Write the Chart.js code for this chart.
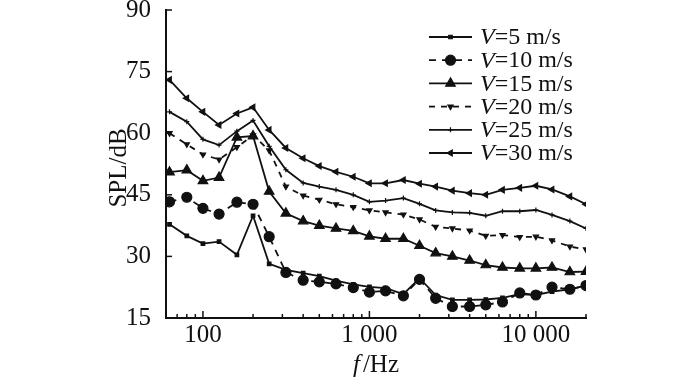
<!DOCTYPE html>
<html><head><meta charset="utf-8">
<script src="https://cdn.jsdelivr.net/npm/chart.js@4/dist/chart.umd.min.js"></script>
<style>html,body{margin:0;padding:0;background:#fff}</style>
</head><body>
<canvas id="c" width="700" height="381" style="width:700px;height:381px;display:block"></canvas>
<script>
const freqs = [63,80,100,125,160,200,250,315,400,500,630,800,1000,1250,1600,2000,2500,3150,4000,5000,6300,8000,10000,12500,16000,20000];
const v5  = [37.8,35.0,33.1,33.6,30.4,39.9,28.2,26.7,25.9,25.2,24.1,23.2,22.6,22.3,20.8,24.7,20.6,19.4,19.4,19.5,19.9,20.8,20.6,21.4,22.0,22.9];
const v10 = [43.3,44.4,41.7,40.3,43.2,42.7,34.8,26.1,24.2,23.8,23.3,22.4,21.3,21.6,20.4,24.4,19.8,17.8,17.8,18.2,18.9,21.1,20.6,22.5,22.0,22.9];
const v15 = [50.5,51.0,48.4,49.2,59.0,59.3,45.8,40.5,38.6,37.5,36.8,36.2,34.9,34.3,34.3,32.6,30.8,30.0,29.0,27.9,27.3,27.1,27.1,27.3,26.2,26.3];
const v20 = [60.0,57.3,54.8,53.6,56.6,59.5,55.8,47.0,44.8,43.8,42.7,42.0,41.2,40.7,40.2,39.0,37.2,36.8,36.3,35.0,35.2,34.7,34.8,33.9,32.4,31.7];
const v25 = [65.2,62.8,58.5,57.1,60.5,63.1,56.8,51.1,47.9,47.0,46.2,45.0,43.3,43.6,44.2,42.8,41.2,40.7,40.6,39.9,41.0,41.0,41.3,40.1,38.6,36.8];
const v30 = [73.0,68.5,65.2,62.0,64.8,66.3,60.8,56.4,53.9,52.0,50.6,49.4,47.8,47.8,48.6,47.7,47.0,46.0,45.4,45.0,46.2,46.7,47.2,46.3,44.6,42.7];
const speeds = ['5','10','15','20','25','30'];
const majorTicks = [100,1000,10000];
const majorLabels = ['100','1 000','10 000'];
const minorTicks = [70,80,90,200,300,400,500,600,700,800,900,2000,3000,4000,5000,6000,7000,8000,9000,20000];
const yTicks = [15,30,45,60,75,90];

const INK = '#111';
const SERIF = '"Liberation Serif","Times New Roman",Times,serif';
const series = [v5,v10,v15,v20,v25,v30];
const styles = [
  {pointStyle:'rect', pointRadius:2.5, rotation:0, dash:[]},
  {pointStyle:'circle', pointRadius:5, rotation:0, dash:[7,6]},
  {pointStyle:'triangle', pointRadius:5.5, rotation:0, dash:[]},
  {pointStyle:'triangle', pointRadius:3, rotation:180, dash:[6,6]},
  {pointStyle:'cross', pointRadius:2.5, rotation:0, dash:[]},
  {pointStyle:'triangle', pointRadius:3.5, rotation:-90, dash:[]}
];

const datasets = series.map((vals,i)=>({
  label: 'V=' + speeds[i] + ' m/s',
  data: freqs.map((f,j)=>({x:f, y:vals[j]})),
  borderColor: INK, backgroundColor: INK,
  borderWidth: 1.8, borderDash: styles[i].dash,
  pointStyle: styles[i].pointStyle, pointRadius: styles[i].pointRadius,
  pointRotation: styles[i].rotation, pointBorderWidth: 1.2,
  pointBorderColor: INK, pointBackgroundColor: INK,
  tension: 0, fill: false
}));

const decor = {
  id: 'decor',
  afterDraw(chart){
    const ctx = chart.ctx, xs = chart.scales.x, ys = chart.scales.y, a = chart.chartArea;
    ctx.save();
    ctx.strokeStyle = INK; ctx.lineWidth = 1.5; ctx.setLineDash([]);
    majorTicks.forEach(v=>{ const px = xs.getPixelForValue(v); ctx.beginPath(); ctx.moveTo(px,a.bottom); ctx.lineTo(px,a.bottom-7); ctx.stroke(); });
    minorTicks.forEach(v=>{ const px = xs.getPixelForValue(v); ctx.beginPath(); ctx.moveTo(px,a.bottom); ctx.lineTo(px,a.bottom-4); ctx.stroke(); });
    yTicks.forEach(v=>{ const py = ys.getPixelForValue(v); ctx.beginPath(); ctx.moveTo(a.left,py); ctx.lineTo(a.left+6,py); ctx.stroke(); });
    ctx.fillStyle = INK; ctx.textBaseline = 'middle';
    ctx.save();
    ctx.translate(119, (a.top+a.bottom)/2 + 4);
    ctx.rotate(-Math.PI/2);
    ctx.textAlign = 'center';
    ctx.font = '25px ' + SERIF;
    ctx.fillText('SPL/dB', 0, 0);
    ctx.restore();
    ctx.font = 'italic 25px ' + SERIF;
    const f1 = 'f', f2 = '/Hz';
    const w1 = ctx.measureText(f1).width + 3;
    ctx.font = '25px ' + SERIF;
    const w2 = ctx.measureText(f2).width;
    let sx = (a.left + a.right)/2 - (w1+w2)/2;
    ctx.textAlign = 'left';
    ctx.font = 'italic 25px ' + SERIF; ctx.fillText(f1, sx, 365);
    ctx.font = '25px ' + SERIF; ctx.fillText(f2, sx + w1, 365);
    chart.data.datasets.forEach((ds,i)=>{
      const y = 37 + i*23.2;
      ctx.save();
      ctx.setLineDash(ds.borderDash); ctx.lineWidth = 1.8;
      ctx.beginPath(); ctx.moveTo(429,y); ctx.lineTo(472,y); ctx.stroke();
      ctx.setLineDash([]);
      ctx.fillStyle = INK; ctx.strokeStyle = INK; ctx.lineWidth = 1.2;
      Chart.helpers.drawPoint(ctx, {pointStyle: ds.pointStyle, radius: ds.pointRadius, rotation: ds.pointRotation, borderWidth: 1.2}, 450.5, y);
      ctx.restore();
      ctx.fillStyle = INK; ctx.textAlign='left'; ctx.textBaseline='middle';
      ctx.font = 'italic 24px ' + SERIF;
      ctx.fillText('V', 480, y+1);
      const wv = ctx.measureText('V').width;
      ctx.font = '24px ' + SERIF;
      ctx.fillText('=' + speeds[i] + ' m/s', 480 + wv, y+1);
    });
    ctx.restore();
  }
};

function draw(){
  new Chart(document.getElementById('c'), {
    type: 'line',
    data: { datasets },
    options: {
      responsive: false, animation: false,
      layout: { padding: { top: 10, right: 114, left: 0, bottom: 0 } },
      plugins: { legend: { display: false }, tooltip: { enabled: false } },
      scales: {
        x: {
          type: 'logarithmic', min: 60, max: 20000,
          afterBuildTicks(s){ s.ticks = majorTicks.map(v=>({value:v})); },
          afterFit(s){ s.height = 63; s.paddingLeft = 0; s.paddingRight = 0; },
          grid: { display: false, drawTicks: false },
          border: { display: true, color: INK, width: 2 },
          ticks: { color: INK, font: { family: SERIF, size: 25 }, padding: 2, maxRotation: 0, autoSkip: false,
            callback: (v)=>{ const k = majorTicks.indexOf(v); return k>=0 ? majorLabels[k] : ''; } }
        },
        y: {
          min: 15, max: 90,
          afterBuildTicks(s){ s.ticks = yTicks.map(v=>({value:v})); },
          afterFit(s){ s.width = 166; s.paddingTop = 0; s.paddingBottom = 0; },
          grid: { display: false, drawTicks: false },
          border: { display: true, color: INK, width: 2 },
          ticks: { color: INK, font: { family: SERIF, size: 25 }, padding: 15 }
        }
      }
    },
    plugins: [decor]
  });
}
if (document.fonts && document.fonts.load) {
  Promise.all([document.fonts.load('25px "Liberation Serif"'), document.fonts.load('italic 25px "Liberation Serif"')]).then(draw, draw);
} else draw();
</script>
</body></html>
